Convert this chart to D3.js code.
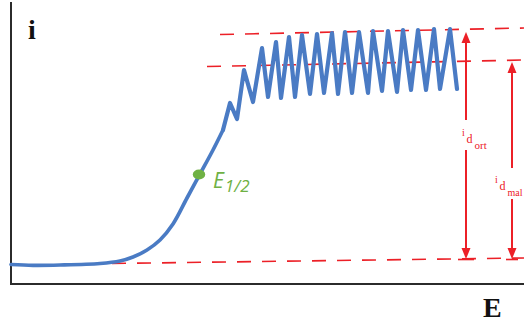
<!DOCTYPE html>
<html>
<head>
<meta charset="utf-8">
<script src="https://cdn.jsdelivr.net/npm/d3@7"></script>
<style>
  html, body { margin: 0; padding: 0; background: #fff; }
  svg { display: block; }
</style>
</head>
<body>
<script>
// ---- data (E in arbitrary units, i in arbitrary units) ----
const riseE = [0, 22, 49, 89, 109, 122, 136, 149, 162, 176, 189, 202, 212];
const riseI = [19.5, 18.7, 19, 20.5, 23, 27, 34, 44, 60, 86, 110, 134, 154];
const zigE = [212, 219, 226, 233, 242, 251, 257, 265, 270, 278, 284, 291, 299, 306, 313, 321, 327, 334, 341, 348, 357, 362, 371, 377, 386, 392, 400, 407, 415, 423, 429, 439, 446];
const zigI = [154, 181, 165, 214, 182, 236, 187, 242, 186, 247, 187, 249, 190, 250, 191, 251, 190, 252, 191, 252, 191, 253, 193, 253, 192, 254, 194, 254, 194, 255, 195, 255, 195];
const baseLineE = [101, 513], baseLineI = [20.5, 26];
const ortLineE = [209, 513], ortLineI = [249.5, 256];
const malLineE = [196, 513], malLineI = [217.5, 224];
const halfE = 188, halfI = 109.5;
const ortArrowE = 455, ortArrowI = [25, 252];
const malArrowE = 501, malArrowI = [25, 222];

const W = 524, H = 324;
const x = d3.scaleLinear().domain([0, 513]).range([11, 524]);
const y = d3.scaleLinear().domain([0, 282]).range([284, 2]);

const svg = d3.select("body").append("svg").attr("width", W).attr("height", H);

const red = "#ec2027", blue = "#4a7bc4", green = "#6fb144";
const serif = "'Liberation Serif', 'DejaVu Serif', serif";

// axes
svg.append("line").attr("x1", x(0)).attr("x2", x(0)).attr("y1", y(282)).attr("y2", y(0) + 1)
  .attr("stroke", "#2b2b2b").attr("stroke-width", 2);
svg.append("line").attr("x1", x(0) - 1).attr("x2", W).attr("y1", y(0)).attr("y2", y(0))
  .attr("stroke", "#2b2b2b").attr("stroke-width", 2);

svg.append("text").attr("x", 28).attr("y", 39).text("i")
  .attr("font-family", serif).attr("font-weight", "bold").attr("font-size", 28).attr("fill", "#111");
svg.append("text").attr("x", 483).attr("y", 317).text("E")
  .attr("font-family", serif).attr("font-weight", "bold").attr("font-size", 28).attr("fill", "#111");

// dashed red lines
function dashed(es, is) {
  svg.append("line").attr("x1", x(es[0])).attr("x2", x(es[1])).attr("y1", y(is[0])).attr("y2", y(is[1]))
    .attr("stroke", red).attr("stroke-width", 1.6).attr("stroke-dasharray", "14,11");
}
dashed(baseLineE, baseLineI);
dashed(ortLineE, ortLineI);
dashed(malLineE, malLineI);

// blue curve
const rise = riseE.map((e, k) => [e, riseI[k]]);
const zig = zigE.map((e, k) => [e, zigI[k]]);
const smooth = d3.line().x(d => x(d[0])).y(d => y(d[1])).curve(d3.curveCatmullRom.alpha(0.5));
const straight = d3.line().x(d => x(d[0])).y(d => y(d[1]));
svg.append("path").attr("d", smooth(rise)).attr("fill", "none").attr("stroke", blue)
  .attr("stroke-width", 3.7).attr("stroke-linecap", "round").attr("stroke-linejoin", "round");
svg.append("path").attr("d", straight(zig)).attr("fill", "none").attr("stroke", blue)
  .attr("stroke-width", 4.2).attr("stroke-linecap", "round").attr("stroke-linejoin", "round");

// E1/2 point
svg.append("ellipse").attr("cx", x(halfE)).attr("cy", y(halfI)).attr("rx", 6.2).attr("ry", 5).attr("fill", green);
const lbl = svg.append("text").attr("x", 213).attr("y", 188)
  .attr("font-family", "'Open Sans', 'Noto Sans', sans-serif").attr("font-style", "italic").attr("fill", green);
lbl.append("tspan").attr("font-size", 21).text("E");
lbl.append("tspan").attr("font-size", 17).attr("dy", 4).attr("dx", 1).text("1/2");

// double arrows with labels
function arrow(e, is, gapTop, gapBot, tickW) {
  const xa = x(e), yTop = y(is[1]), yBot = y(is[0]);
  const g = svg.append("g").attr("fill", red);
  g.append("line").attr("x1", xa).attr("x2", xa).attr("y1", yTop + 8).attr("y2", gapTop)
    .attr("stroke", red).attr("stroke-width", 2);
  g.append("line").attr("x1", xa).attr("x2", xa).attr("y1", gapBot).attr("y2", yBot - 8)
    .attr("stroke", red).attr("stroke-width", 2);
  g.append("path").attr("d", `M${xa},${yTop} L${xa - 4.5},${yTop + 11} L${xa + 4.5},${yTop + 11} Z`);
  g.append("path").attr("d", `M${xa},${yBot} L${xa - 4.5},${yBot - 11} L${xa + 4.5},${yBot - 11} Z`);
  g.append("line").attr("x1", xa - tickW / 2).attr("x2", xa + tickW / 2).attr("y1", yBot + 0.5).attr("y2", yBot + 0.5)
    .attr("stroke", red).attr("stroke-width", 1.6);
}
arrow(ortArrowE, ortArrowI, 120, 150, 16);
arrow(malArrowE, malArrowI, 168, 199, 12);

function subLabel(x0, y0, sub, subSize) {
  svg.append("text").attr("x", x0).attr("y", y0).attr("font-family", serif).attr("font-size", 10).attr("fill", red).text("i");
  svg.append("text").attr("x", x0 + 4.5).attr("y", y0 + 7).attr("font-family", serif).attr("font-size", 12).attr("fill", red).text("d");
  svg.append("text").attr("x", x0 + 12.5).attr("y", y0 + 13).attr("font-family", serif).attr("font-size", subSize).attr("fill", red).text(sub);
}
subLabel(462, 136, "ort", 11);
subLabel(495, 183, "mal", 10);
</script>
</body>
</html>
